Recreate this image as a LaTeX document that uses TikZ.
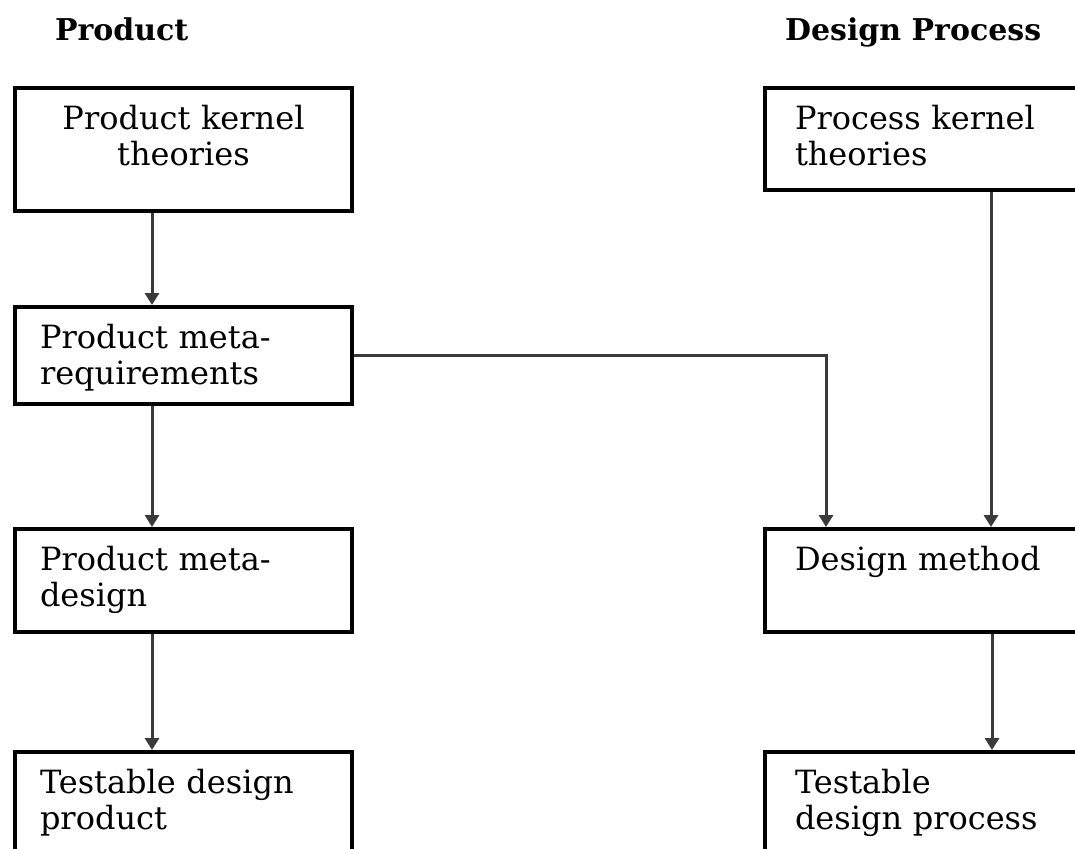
\documentclass[tikz,border=0pt]{standalone}
\usepackage{fontspec}
\setmainfont{DejaVu Serif}
\usetikzlibrary{arrows.meta, positioning, calc}
\definecolor{boxBlack}{HTML}{000000}
\definecolor{lineGray}{HTML}{3A3A3A}
\tikzset{
    box/.style={draw=boxBlack, line width=2pt, anchor=north west, inner xsep=12.5pt, inner ysep=0pt,
        text width=143.5pt, align=left, text height=20.5pt, font=\fontsize{16}{18}\selectfont},
    procbox/.style={box, inner xsep=15pt, text width=138.5pt},
    conn/.style={draw=lineGray, line width=1.5pt, -{Triangle[length=6pt,width=7pt]}},
    title/.style={anchor=base west, font=\bfseries\fontsize{15}{18}\selectfont}
}

\begin{document}
\begin{tikzpicture}[x=0.5pt, y=-0.5pt]
        \useasboundingbox (0,0) rectangle (1075,848);
        \clip (0,0) rectangle (1075,848);

        % Column titles
        \node[title] (prodtitle) at (48,40) {Product};
        \node[title] (proctitle) at (778,40) {Design Process};

        % Product column
        \node[box, align=center, text depth=41pt] (pkt) at (13,86) {Product kernel\\theories};
        \node[box, text depth=28pt] (pmr) at (13,305) {Product meta-\\requirements};
        \node[box, text depth=31pt] (pmd) at (13,527) {Product meta-\\design};
        \node[box, text depth=40pt] (tdp) at (13,750) {Testable design\\product};

        % Design process column
        \node[procbox, text depth=30.5pt] (prkt) at (763,86) {Process kernel\\theories};
        \node[procbox, text depth=31pt] (dm) at (763,527) {Design method};
        \node[procbox, text depth=40pt] (tdproc) at (763,750) {Testable\\design process};

        % Arrows down the product side
        \draw[conn] ($(pkt.south west)+(139,0)$) -- ($(pmr.north west)+(139,0)$);
        \draw[conn] ($(pmr.south west)+(139,0)$) -- ($(pmd.north west)+(139,0)$);
        \draw[conn] ($(pmd.south west)+(139,0)$) -- ($(tdp.north west)+(139,0)$);

        % Arrows into and out of the design method
        \draw[conn] (pmr.east) -| ($(dm.north west)+(63,0)$);
        \draw[conn] ($(prkt.south west)+(228,0)$) -- ($(dm.north west)+(228,0)$);
        \draw[conn] ($(dm.south west)+(229,0)$) -- ($(tdproc.north west)+(229,0)$);
\end{tikzpicture}
\end{document}
